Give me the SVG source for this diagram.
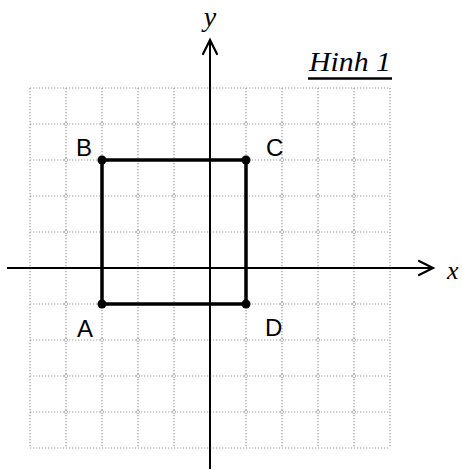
<svg xmlns="http://www.w3.org/2000/svg" width="462" height="470" viewBox="0 0 462 470">
<style>
.grid{stroke:#9a9a9a;stroke-width:1.2;stroke-dasharray:1.2 1.8;fill:none}
.gdot{fill:#fff;stroke:#aaa;stroke-width:0.8}
.axis{stroke:#000;stroke-width:2;fill:none}
.head{stroke:#000;stroke-width:2.2;fill:none;stroke-linecap:round;stroke-linejoin:miter}
.shape{stroke:#000;stroke-width:3.5;fill:none}
.pt{fill:#000}
.lbl{font-family:"Liberation Sans",Arial,sans-serif;font-size:24px;fill:#000}
.ax{font-family:"Liberation Serif","Times New Roman",serif;font-style:italic;fill:#000}
</style>
<rect width="462" height="470" fill="#fff"/>
<g id="grid">
<path class="grid" d="M30 88V448M66 88V448M102 88V448M138 88V448M174 88V448M246 88V448M282 88V448M318 88V448M354 88V448M390 88V448"/>
<path class="grid" d="M30 88H390M30 124H390M30 160H390M30 196H390M30 232H390M30 304H390M30 340H390M30 376H390M30 412H390M30 448H390"/>
<g class="gdot">
<circle cx="66" cy="124" r="1.6"/><circle cx="102" cy="124" r="1.6"/><circle cx="138" cy="124" r="1.6"/><circle cx="174" cy="124" r="1.6"/><circle cx="246" cy="124" r="1.6"/><circle cx="282" cy="124" r="1.6"/><circle cx="318" cy="124" r="1.6"/><circle cx="354" cy="124" r="1.6"/>
<circle cx="66" cy="160" r="1.6"/><circle cx="282" cy="160" r="1.6"/><circle cx="318" cy="160" r="1.6"/><circle cx="354" cy="160" r="1.6"/>
<circle cx="66" cy="196" r="1.6"/><circle cx="138" cy="196" r="1.6"/><circle cx="174" cy="196" r="1.6"/><circle cx="282" cy="196" r="1.6"/><circle cx="318" cy="196" r="1.6"/><circle cx="354" cy="196" r="1.6"/>
<circle cx="66" cy="232" r="1.6"/><circle cx="138" cy="232" r="1.6"/><circle cx="174" cy="232" r="1.6"/><circle cx="282" cy="232" r="1.6"/><circle cx="318" cy="232" r="1.6"/><circle cx="354" cy="232" r="1.6"/>
<circle cx="66" cy="304" r="1.6"/><circle cx="282" cy="304" r="1.6"/><circle cx="318" cy="304" r="1.6"/><circle cx="354" cy="304" r="1.6"/>
<circle cx="66" cy="340" r="1.6"/><circle cx="102" cy="340" r="1.6"/><circle cx="138" cy="340" r="1.6"/><circle cx="174" cy="340" r="1.6"/><circle cx="246" cy="340" r="1.6"/><circle cx="282" cy="340" r="1.6"/><circle cx="318" cy="340" r="1.6"/><circle cx="354" cy="340" r="1.6"/>
<circle cx="66" cy="376" r="1.6"/><circle cx="102" cy="376" r="1.6"/><circle cx="138" cy="376" r="1.6"/><circle cx="174" cy="376" r="1.6"/><circle cx="246" cy="376" r="1.6"/><circle cx="282" cy="376" r="1.6"/><circle cx="318" cy="376" r="1.6"/><circle cx="354" cy="376" r="1.6"/>
<circle cx="66" cy="412" r="1.6"/><circle cx="102" cy="412" r="1.6"/><circle cx="138" cy="412" r="1.6"/><circle cx="174" cy="412" r="1.6"/><circle cx="246" cy="412" r="1.6"/><circle cx="282" cy="412" r="1.6"/><circle cx="318" cy="412" r="1.6"/><circle cx="354" cy="412" r="1.6"/>
</g>
</g>
<g id="axes">
<line class="axis" x1="7" y1="268" x2="432" y2="268"/>
<path class="head" d="M419 261L433 268L419 275"/>
<line class="axis" x1="210" y1="469" x2="210" y2="41"/>
<path class="head" d="M203 54L210 40L217 54"/>
<text class="ax" x="210" y="26" font-size="28" text-anchor="middle">y</text>
<text class="ax" x="447" y="279" font-size="26">x</text>
</g>
<g id="connectors">
<path class="shape" d="M102 160H246V304H102Z"/>
</g>
<g id="B"><circle class="pt" cx="102" cy="160" r="4.5"/><text class="lbl" x="76" y="156">B</text></g>
<g id="C"><circle class="pt" cx="246" cy="160" r="4.5"/><text class="lbl" x="266" y="156">C</text></g>
<g id="A"><circle class="pt" cx="102" cy="304" r="4.5"/><text class="lbl" x="77" y="337">A</text></g>
<g id="D"><circle class="pt" cx="246" cy="304" r="4.5"/><text class="lbl" x="265" y="336">D</text></g>
<g id="title">
<text class="ax" x="309" y="71" font-size="28" textLength="82" lengthAdjust="spacingAndGlyphs">Hinh 1</text>
<line x1="308" y1="78.5" x2="392" y2="78.5" stroke="#000" stroke-width="2.5"/>
</g>
</svg>
